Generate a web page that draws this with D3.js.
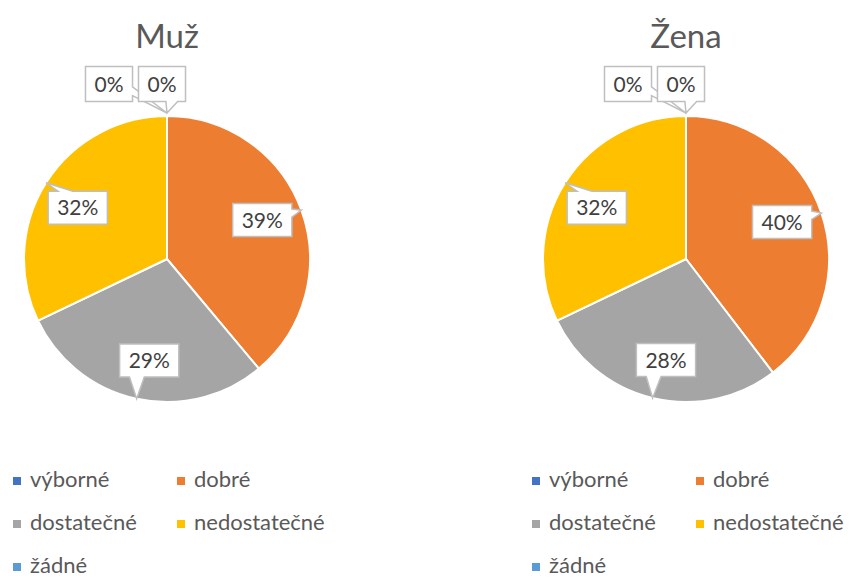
<!DOCTYPE html>
<html>
<head>
<meta charset="utf-8">
<script src="https://cdn.jsdelivr.net/npm/d3@7"></script>
<style>
  body { margin: 0; background: #fff; }
  svg { font-family: Lato, "Open Sans", sans-serif; }
</style>
</head>
<body>
<div class="chart"></div>
<script>
// data
var categories = ["výborné", "dobré", "dostatečné", "nedostatečné", "žádné"];
var colors = ["#4472C4", "#ED7D31", "#A5A5A5", "#FFC000", "#5B9BD5"];
var titles = ["Muž", "Žena"];
var muzValues = [0, 38.9, 29.0, 32.1, 0];
var zenaValues = [0, 39.6, 28.3, 32.1, 0];

var width = 849, height = 579;
var radius = 143;
var centers = [[167, 259], [686, 259]];

var svg = d3.select(".chart").append("svg")
    .attr("width", width)
    .attr("height", height);

var pie = d3.pie().sort(null).value(function (d) { return d; });
var arc = d3.arc().innerRadius(0).outerRadius(radius);

// Excel style wedge callout
function callout(cx, cy, w, h, tx, ty) {
    var x0 = cx - w / 2, y0 = cy - h / 2, x1 = cx + w / 2, y1 = cy + h / 2;
    var dx = tx - cx, dy = ty - cy;
    var pts, a, b;
    if (Math.abs(dy) * w > Math.abs(dx) * h) {
        a = dx < 0 ? x0 + w * 2 / 12 : x0 + w * 7 / 12;
        b = a + w * 3 / 12;
        if (dy < 0) pts = [[x0, y0], [a, y0], [tx, ty], [b, y0], [x1, y0], [x1, y1], [x0, y1]];
        else pts = [[x0, y0], [x1, y0], [x1, y1], [b, y1], [tx, ty], [a, y1], [x0, y1]];
    } else {
        a = dy < 0 ? y0 + h * 2 / 12 : y0 + h * 7 / 12;
        b = a + h * 3 / 12;
        if (dx > 0) pts = [[x0, y0], [x1, y0], [x1, a], [tx, ty], [x1, b], [x1, y1], [x0, y1]];
        else pts = [[x0, y0], [x1, y0], [x1, y1], [x0, y1], [x0, b], [tx, ty], [x0, a]];
    }
    return "M" + pts.join("L") + "Z";
}

[muzValues, zenaValues].forEach(function (values, ci) {
    var cx = centers[ci][0], cy = centers[ci][1];
    var total = d3.sum(values);
    var g = svg.append("g")
        .attr("transform", "translate(" + cx + "," + cy + ")");

    // title
    svg.append("text")
        .attr("x", cx)
        .attr("y", 48)
        .attr("text-anchor", "middle")
        .attr("font-size", 33)
        .attr("fill", "#595959")
        .text(titles[ci]);

    var arcs = pie(values);

    g.selectAll(".slice")
        .data(arcs)
        .enter().append("path")
        .attr("class", "slice")
        .attr("d", arc)
        .attr("fill", function (d, i) { return colors[i]; })
        .attr("stroke", "#fff")
        .attr("stroke-width", 2);

    // labels
    var zeroCount = 0;
    arcs.forEach(function (d) {
        var label = Math.round(d.value / total * 100) + "%";
        var mid = (d.startAngle + d.endAngle) / 2;
        var tx = Math.sin(mid) * radius, ty = -Math.cos(mid) * radius;
        var bx, by, h = 33;
        if (d.value === 0) {
            tx = 0; ty = -radius - 3;
            bx = -58 + zeroCount * 53;
            by = -radius - 32;
            h = 35;
            zeroCount++;
        } else {
            bx = Math.sin(mid - 0.04) * radius * 0.72;
            by = -Math.cos(mid - 0.04) * radius * 0.72;
        }
        var lg = g.append("g");
        var t = lg.append("text")
            .attr("x", bx)
            .attr("y", by)
            .attr("dy", "0.36em")
            .attr("text-anchor", "middle")
            .attr("font-size", 21)
            .attr("fill", "#404040")
            .text(label);
        var tw = t.node().getComputedTextLength();
        var w = tw + 18;
        lg.insert("path", "text")
            .attr("d", callout(bx, by, w, h, tx, ty))
            .attr("fill", "#fff")
            .attr("stroke", "#BFBFBF")
            .attr("stroke-width", 1.5);
    });

    // legend
    var legend = svg.append("g");
    categories.forEach(function (c, i) {
        var lx = cx - 154 + (i % 2) * 164;
        var ly = 487 + Math.floor(i / 2) * 43;
        legend.append("rect")
            .attr("x", lx)
            .attr("y", ly - 10)
            .attr("width", 8)
            .attr("height", 8)
            .attr("fill", colors[i]);
        legend.append("text")
            .attr("x", lx + 17)
            .attr("y", ly)
            .attr("font-size", 22)
            .attr("fill", "#595959")
            .text(c);
    });
});
</script>
</body>
</html>
